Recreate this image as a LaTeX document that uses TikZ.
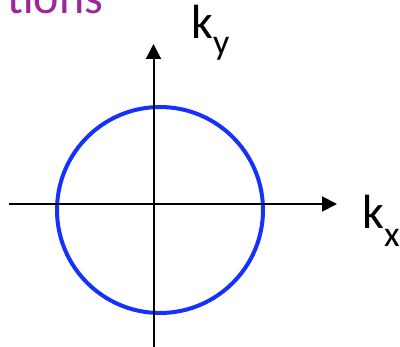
\documentclass[tikz,border=0pt]{standalone}
\usepackage{fontspec}
\setmainfont{Carlito}
\usetikzlibrary{arrows.meta}
\definecolor{titlepurple}{RGB}{155,40,155}
\definecolor{ringblue}{RGB}{20,50,250}
\tikzset{
  axis/.style={line width=2pt, -{Triangle[length=15pt,width=15pt]}},
  axisplain/.style={line width=2pt},
  ring/.style={draw=ringblue, line width=4pt},
  lbl/.style={inner sep=0pt, font=\fontsize{48}{48}\selectfont},
}
\begin{document}
\begin{tikzpicture}[x=1pt,y=-1pt]
\useasboundingbox (0,0) rectangle (400,347);
\clip (0,0) rectangle (400,347);
\node[lbl, anchor=base west, text=titlepurple] (title) at (7,14) {tions};
\coordinate (origin) at (153.5,204);
\coordinate (xl) at (9,204);
\coordinate (xr) at (337,204);
\coordinate (yt) at (153.5,44);
\coordinate (yb) at (153.5,350);
\node[ring, circle, minimum size=206pt, inner sep=0pt] (circ) at (160,210) {};
\draw[axisplain] (xl) -- (origin);
\draw[axis] (origin) -- (xr);
\draw[axisplain] (yb) -- (origin);
\draw[axis] (origin) -- (yt);
\node[lbl, anchor=base west] (kx) at (362,229) {k\raisebox{-18pt}{\fontsize{36}{36}\selectfont x}};
\node[lbl, anchor=base west] (ky) at (191,39) {k\raisebox{-16pt}{\fontsize{36}{36}\selectfont y}};
\end{tikzpicture}
\end{document}
